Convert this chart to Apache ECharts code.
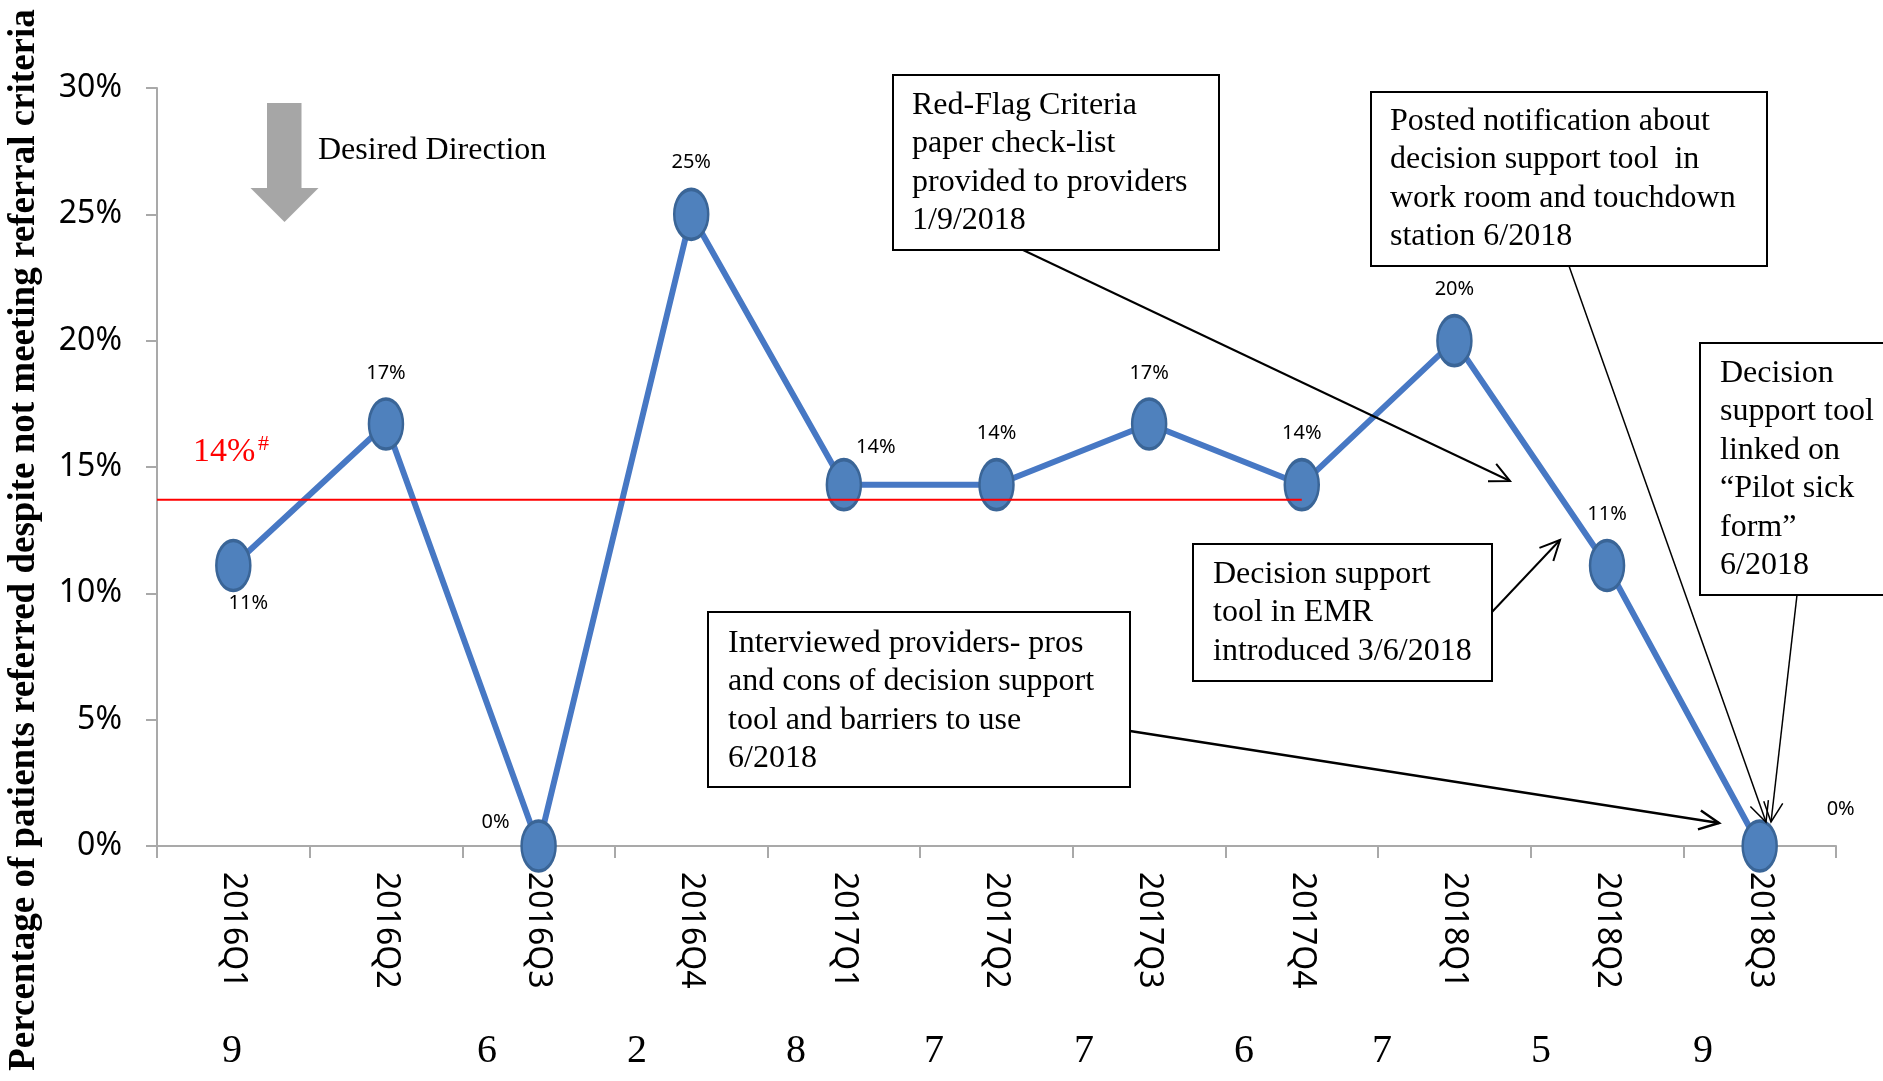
<!DOCTYPE html>
<html>
<head>
<meta charset="utf-8">
<script src="https://cdn.jsdelivr.net/npm/echarts@6/dist/echarts.min.js"></script>
<style>
  html, body { margin: 0; background: #ffffff; }
  #chart { width: 1883px; height: 1081px; }
</style>
</head>
<body>
<div id="chart"></div>
<script>
// quarters on the x axis
const quarters = ['2016Q1', '2016Q2', '2016Q3', '2016Q4', '2017Q1', '2017Q2', '2017Q3', '2017Q4', '2018Q1', '2018Q2', '2018Q3']
// % of patients referred despite not meeting referral criteria
const referralRates = [11.1, 16.7, 0, 25, 14.3, 14.3, 16.7, 14.3, 20, 11.1, 0]
// baseline (red line) and the quarters it spans, in category units
const baselineRate = 13.7
const baselineSpan = [-0.5, 7]
const baselineText = '14%'
// patient counts written under the axis
const sampleSizes = [9, 6, 2, 8, 7, 7, 6, 7, 5, 9]

// layout only
const sampleSizeX = [232, 487, 637, 796, 934, 1084, 1244, 1382, 1541, 1703]
const labelOffsets = [[15, 38], [0, -51], [-43, -24], [0, -52], [32, -37], [0, -51], [0, -51], [0, -51], [0, -51], [0, -51], [81, -37]]

const serif = '"Liberation Serif", "Times New Roman", serif'
const sans = '"Noto Sans", sans-serif'

const notes = [
  { box: [893, 75, 326, 175], text: 'Red-Flag Criteria\npaper check-list\nprovided to providers\n1/9/2018', at: [912, 86] },
  { box: [1371, 92, 396, 174], text: 'Posted notification about\ndecision support tool  in\nwork room and touchdown\nstation 6/2018', at: [1390, 102] },
  { box: [1700, 343, 260, 252], text: 'Decision\nsupport tool\nlinked on\n\u201CPilot sick\nform\u201D\n6/2018', at: [1720, 354] },
  { box: [1193, 544, 299, 137], text: 'Decision support\ntool in EMR\nintroduced 3/6/2018', at: [1213, 555] },
  { box: [708, 612, 422, 175], text: 'Interviewed providers- pros\nand cons of decision support\ntool and barriers to use\n6/2018', at: [728, 624] },
]

const arrows = [
  [1023, 250, 1510, 481, 2],
  [1492, 612, 1560, 540, 2],
  [1130, 731, 1719, 823, 2.5],
  [1569, 266, 1766, 822, 1.5],
  [1797, 595, 1771, 822, 1.5],
]

const arrowShape = (x1, y1, x2, y2, w) => {
  const ang = Math.atan2(y2 - y1, x2 - x1)
  const len = 22
  const spread = Math.PI / 7
  const p1 = [x2 - len * Math.cos(ang - spread), y2 - len * Math.sin(ang - spread)]
  const p2 = [x2 - len * Math.cos(ang + spread), y2 - len * Math.sin(ang + spread)]
  return [
    { type: 'line', shape: { x1, y1, x2, y2 }, style: { stroke: '#000', lineWidth: w } },
    { type: 'polyline', shape: { points: [p1, [x2, y2], p2] }, style: { stroke: '#000', lineWidth: w, fill: null } },
  ]
}

const graphics = []

// y axis title
graphics.push({
  type: 'text', x: 24, y: 540, rotation: Math.PI / 2,
  style: {
    text: 'Percentage of patients referred despite not meeting referral criteria',
    fontFamily: serif, fontSize: 37, fontWeight: 'bold', fill: '#000',
    align: 'center', verticalAlign: 'middle',
  },
})

// desired direction arrow
graphics.push({
  type: 'polygon',
  shape: { points: [[267, 103], [301.5, 103], [301.5, 188], [318.5, 188], [284.5, 222], [250.5, 188], [267, 188]] },
  style: { fill: '#a6a6a6' },
})
graphics.push({
  type: 'text', x: 318, y: 131,
  style: { text: 'Desired Direction', fontFamily: serif, fontSize: 32, lineHeight: 38.5, fill: '#000', verticalAlign: 'top' },
})

// baseline label
graphics.push({
  type: 'text', x: 193, y: 432,
  style: { text: baselineText, fontFamily: serif, fontSize: 34, lineHeight: 40, fill: '#ff0000', verticalAlign: 'top' },
})
graphics.push({
  type: 'text', x: 258, y: 431,
  style: { text: '#', fontFamily: serif, fontSize: 22, lineHeight: 26, fill: '#ff0000', verticalAlign: 'top' },
})

notes.forEach((n) => {
  graphics.push({
    type: 'rect', z: 100,
    shape: { x: n.box[0], y: n.box[1], width: n.box[2], height: n.box[3] },
    style: { fill: '#ffffff', stroke: '#000', lineWidth: 2 },
  })
  graphics.push({
    type: 'text', z: 101, x: n.at[0], y: n.at[1],
    style: { text: n.text, fontFamily: serif, fontSize: 32, lineHeight: 38.5, fill: '#000', verticalAlign: 'top' },
  })
})

arrows.forEach((a) => {
  arrowShape(...a).forEach((g) => graphics.push({ ...g, z: 102 }))
})

sampleSizes.forEach((n, i) => {
  graphics.push({
    type: 'text', x: sampleSizeX[i], y: 1051,
    style: { text: String(n), fontFamily: serif, fontSize: 40, fill: '#000', align: 'center', verticalAlign: 'middle' },
  })
})

const rateData = referralRates.map((v, i) => ({
  value: v,
  label: { offset: labelOffsets[i] },
}))

const chart = echarts.init(document.getElementById('chart'))
chart.setOption({
  backgroundColor: '#ffffff',
  animation: false,
  grid: { left: 157, right: 47, top: 88, bottom: 235 },
  xAxis: [
    {
      type: 'category',
      data: quarters,
      boundaryGap: true,
      axisLine: { onZero: false, lineStyle: { color: '#a9a9a9', width: 2 } },
      axisTick: { show: true, length: 12, lineStyle: { color: '#a9a9a9', width: 2 } },
      axisLabel: { rotate: -90, margin: 26, color: '#000', fontFamily: sans, fontSize: 32, interval: 0 },
      splitLine: { show: false },
    },
    { type: 'value', min: -0.5, max: quarters.length - 0.5, show: false },
  ],
  yAxis: {
    type: 'value',
    min: 0,
    max: 30,
    interval: 5,
    axisLine: { show: true, onZero: false, lineStyle: { color: '#a9a9a9', width: 2 } },
    axisTick: { show: true, length: 11, lineStyle: { color: '#a9a9a9', width: 2 } },
    axisLabel: { formatter: '{value}%', margin: 35, color: '#000', fontFamily: sans, fontSize: 32 },
    splitLine: { show: false },
  },
  series: [
    {
      type: 'line',
      data: rateData,
      symbol: 'circle',
      symbolSize: [34, 50],
      lineStyle: { color: '#4778c4', width: 6 },
      itemStyle: { color: '#4f81bd', borderColor: '#3a6597', borderWidth: 3 },
      label: {
        show: true,
        position: 'inside',
        formatter: (p) => Math.round(p.value) + '%',
        color: '#000',
        fontFamily: sans,
        fontSize: 20,
      },
      z: 2,
    },
    {
      type: 'line',
      xAxisIndex: 1,
      data: [[baselineSpan[0], baselineRate], [baselineSpan[1], baselineRate]],
      symbol: 'none',
      lineStyle: { color: '#ff0000', width: 2 },
      z: 3,
    },
  ],
  graphic: graphics,
})
</script>
</body>
</html>
